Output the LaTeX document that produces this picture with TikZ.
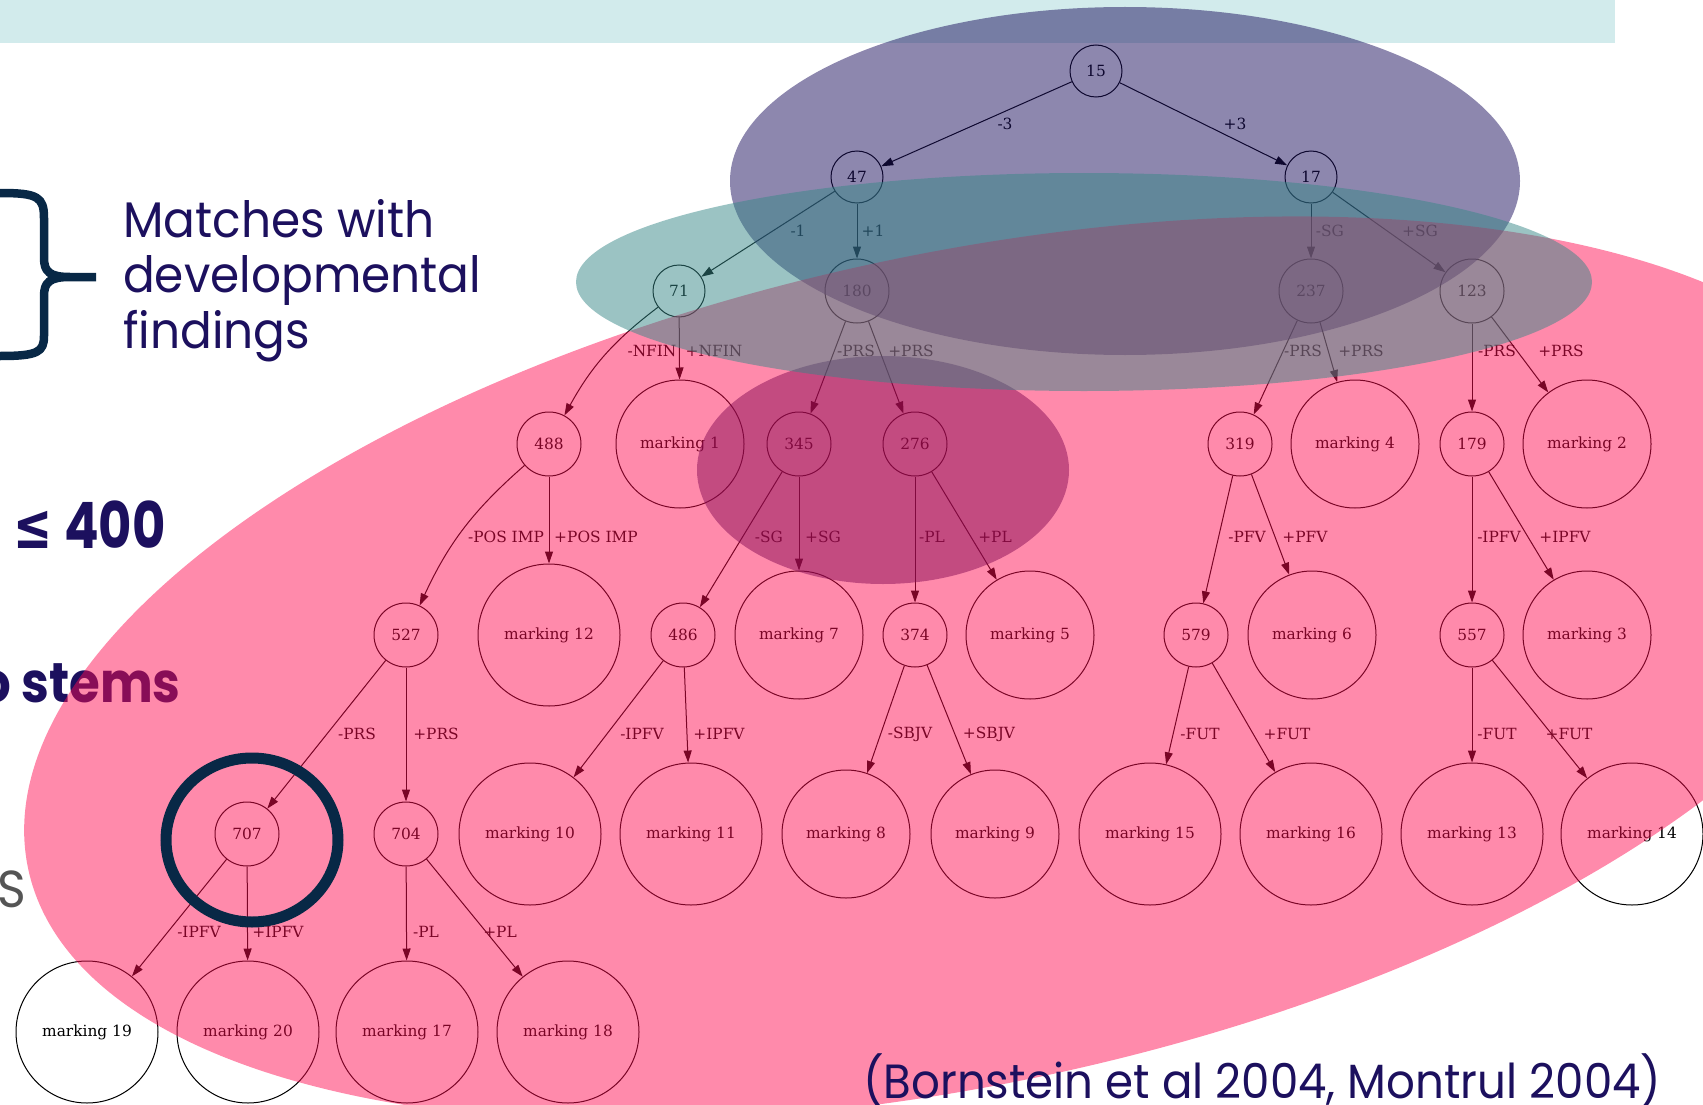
\documentclass[tikz,border=0pt]{standalone}
\usepackage{fontspec}
\setmainfont{DejaVu Serif}
\newfontfamily\slidefont[FakeStretch=0.94]{Poppins}
\newfontfamily\slidebold[FakeStretch=0.89]{Poppins}
\newfontfamily\slidenum[FakeStretch=0.8]{Poppins}
\newfontfamily\symbold[FakeStretch=0.73]{DejaVu Sans}
\usetikzlibrary{arrows.meta,positioning,calc}
\definecolor{bandcyan}{RGB}{210,235,236}
\definecolor{slideink}{RGB}{28,16,94}
\definecolor{ringnavy}{RGB}{8,40,70}
\definecolor{hotpink}{RGB}{255,11,80}
\definecolor{tealmist}{RGB}{55,135,135}
\definecolor{fadegrey}{RGB}{85,85,85}

\begin{document}
\begin{tikzpicture}[x=1pt, y=-1pt,
      every node/.style={font=\fontsize{15.4}{17}\selectfont},
      cnode/.style={circle, draw, line width=1pt, inner sep=0pt, minimum size=#1},
      mnode/.style={circle, draw, line width=1pt, inner sep=0pt, minimum size=#1},
      arrowline/.style={line width=1pt, -{Triangle[length=12pt,width=8pt]}},
      flabel/.style={inner sep=1pt},
      slidetext/.style={font=\slidefont\fontsize{50}{55.5}\selectfont, text=slideink, inner sep=0pt}
    ]
    \useasboundingbox (0,0) rectangle (1703,1105);
    \fill[bandcyan] (0,0) rectangle (1615,43);
    \foreach \n/\x/\y/\d in {15/1096/71/52, 47/857/177/52, 17/1311/177/52, 71/679/291/52,
        180/857/291/64, 237/1311/291/64, 123/1472/291/64, 488/549/444/64, 345/799/444/64,
        276/915/444/64, 319/1240/444/64, 179/1472/444/64, 527/406/635/64, 486/683/635/64,
        374/915/635/64, 579/1196/635/64, 557/1472/635/64, 707/247/834/64, 704/406/834/64} {
      \node[cnode=\d] (c\n) at (\x,\y) {\n};
    }
    \foreach \k/\x/\y/\d in {1/680/444/128, 4/1355/444/128, 2/1587/444/128, 12/549/635/142,
        7/799/635/128, 5/1030/635/128, 6/1312/635/128, 3/1587/635/128, 10/530/834/142,
        11/691/834/142, 8/846/834/128, 9/995/834/128, 15/1150/834/142, 16/1311/834/142,
        13/1472/834/142, 14/1632/834/142, 19/87/1032/142, 20/248/1032/142,
        17/407/1032/142, 18/568/1032/142} {
      \node[mnode=\d] (m\k) at (\x,\y) {marking \k};
    }
    \foreach \a/\b in {c15/c47, c15/c17, c47/c71, c47/c180, c17/c237, c17/c123, c71/m1,
        c180/c345, c180/c276, c237/c319, c237/m4, c123/c179, c123/m2, c488/m12, c345/c486,
        c345/m7, c276/c374, c276/m5, c319/c579, c319/m6, c179/c557, c179/m3, c527/c707,
        c527/c704, c486/m10, c486/m11, c374/m8, c374/m9, c579/m15, c579/m16, c557/m13,
        c557/m14, c707/m19, c707/m20, c704/m17, c704/m18} {
      \draw[arrowline] (\a) -- (\b);
    }
    \draw[arrowline] (c71) to[bend right=12] (c488);
    \draw[arrowline] (c488) to[bend right=12] (c527);
    \foreach \k/\x/\y/\t in {1/1005/124/-3, 2/1235/124/+3, 3/798/231/-1, 4/873/231/+1,
        5/1330/231/-SG, 6/1420/231/+SG, 7/652/351/-NFIN, 8/714/351/+NFIN, 9/856/351/-PRS,
        10/911/351/+PRS, 11/1303/351/-PRS, 12/1361/351/+PRS, 13/1497/351/-PRS,
        14/1561/351/+PRS, 15/506/537/-POS IMP, 16/596/537/+POS IMP, 17/769/537/-SG,
        18/823/537/+SG, 19/932/537/-PL, 20/995/537/+PL, 21/1247/537/-PFV, 22/1305/537/+PFV,
        23/1499/537/-IPFV, 24/1565/537/+IPFV, 25/357/734/-PRS, 26/436/734/+PRS,
        27/642/734/-IPFV, 28/719/734/+IPFV, 29/910/734/-SBJV, 30/989/734/+SBJV,
        31/1200/734/-FUT, 32/1287/734/+FUT, 33/1497/734/-FUT, 34/1569/734/+FUT,
        35/199/932/-IPFV, 36/278/932/+IPFV, 37/426/932/-PL, 38/500/932/+PL} {
      \node[flabel] (f\k) at (\x,\y) {\t};
    }
    \fill[slideink, opacity=0.5] (1125,181) ellipse [x radius=395, y radius=174];
    \fill[slideink, opacity=0.5] (883,470) ellipse [x radius=186, y radius=114];
    \node[slidetext, font=\slidebold\bfseries\fontsize{56}{56}\selectfont, anchor=base east] (stems) at (181,702) {o stems};
    \fill[hotpink, opacity=0.48, rotate around={12.1:(962,669)}] (962,669) ellipse [x radius=955, y radius=415];
    \fill[tealmist, opacity=0.5] (1084,282) ellipse [x radius=508, y radius=109];
    \draw[ringnavy, line width=11pt] (252,840) ellipse [x radius=86, y radius=82];
    \draw[ringnavy, line width=8.5pt, line join=round]
      (0,193) .. controls (38,193) and (44,197) .. (44,218) -- (44,258)
      .. controls (44,272) and (50,277) .. (70,277) -- (96,277)
      (70,277) .. controls (50,277) and (44,282) .. (44,296) -- (44,336)
      .. controls (44,352) and (38,356) .. (0,356);
    \node[slidetext, anchor=base west, align=left] (finding) at (123,348) {Matches with\\developmental\\findings};
    \node[slidetext, font=\slidenum\bfseries\fontsize{64}{64}\selectfont, anchor=base west] (bound) at (13,548) {{\symbold ≤}\hspace{1pt} 400};
    \node[slidetext, text=fadegrey, font=\slidefont\fontsize{52}{52}\selectfont, anchor=base west] (cut) at (-3,907) {S};
    \node[slidetext, font=\slidefont\fontsize{48}{48}\selectfont, anchor=base west] (cite) at (863,1098) {(Bornstein et al 2004, Montrul 2004)};
  \end{tikzpicture}
\end{document}
